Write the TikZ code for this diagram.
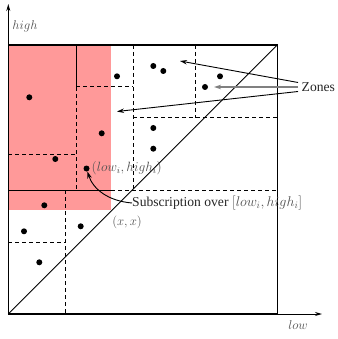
\documentclass[tikz,border=0pt]{standalone}
\usepackage{fontspec}
\setmainfont{Liberation Serif}
\usetikzlibrary{arrows.meta}
\definecolor{zonepink}{RGB}{255,153,153}
\definecolor{labgray}{RGB}{80,80,80}
\newcommand{\mlab}[2][1.06]{\scalebox{#1}{$#2$}}
\tikzset{
  dot/.style={circle,fill=black,inner sep=0pt,minimum size=6pt},
  part/.style={line width=1pt,dash pattern=on 4pt off 3pt},
  solidpart/.style={line width=1pt},
  axis/.style={line width=1pt,-{Stealth[length=7pt,width=4pt]}},
  ptr/.style={line width=0.9pt,-{Stealth[length=7pt,width=4.5pt,open]}},
  mathlab/.style={text=labgray,font=\fontsize{12}{14}\selectfont,inner sep=0pt},
  txtlab/.style={text=black!85,font=\fontsize{13.6}{16}\selectfont,inner sep=0pt}
}
\begin{document}
\begin{tikzpicture}[x=1pt,y=-1pt]
\useasboundingbox (0,0) rectangle (337,339);
% subscription region
\fill[zonepink] (8.3,45) rectangle (111,210);
% axes
\draw[axis] (8.3,314) -- (8.3,4);
\draw[axis] (8.3,314) -- (322,314);
\node[mathlab] (hlab) at (25,26) {\mlab{high}};
\node[mathlab] (llab) at (298,325) {\mlab{low}};
% square and diagonal
\draw[line width=1.1pt] (8.3,45) rectangle (277.3,314);
\draw[line width=0.9pt] (8.3,314) -- (277.3,45);
% partition lines
\draw[solidpart] (76,45) -- (76,87);
\draw[part] (76,87) -- (76,190);
\draw[part] (76,87) -- (133,87);
\draw[part] (8.3,154) -- (76,154);
\draw[part] (133,45) -- (133,190);
\draw[part] (195,45) -- (195,118);
\draw[part] (133,118) -- (277.3,118);
\draw[solidpart] (8.3,190) -- (111,190);
\draw[part] (111,190) -- (277.3,190);
\draw[part] (65.3,190) -- (65.3,314);
\draw[part] (8.3,242) -- (65.3,242);
% points
\node[dot] (p1) at (29.3,97.3) {};
\node[dot] (p2) at (117,76.3) {};
\node[dot] (p3) at (153.3,66) {};
\node[dot] (p4) at (163.3,71) {};
\node[dot] (p5) at (101.7,133.3) {};
\node[dot] (p6) at (153.3,128) {};
\node[dot] (p7) at (153.3,148.7) {};
\node[dot] (p8) at (55.3,159) {};
\node[dot] (pi) at (86.5,168.5) {};
\node[dot] (p10) at (220,76.3) {};
\node[dot] (p11) at (205,87) {};
\node[dot] (p12) at (44.3,205.3) {};
\node[dot] (p13) at (24,231.3) {};
\node[dot] (p14) at (80.7,226.3) {};
\node[dot] (p15) at (39.3,262.3) {};
% labels
\node[mathlab,anchor=west] (pilab) at (91.5,168) {\mlab[1.12]{(low_i, high_i)}};
\node[mathlab] (xx) at (127,222) {\mlab{(x,x)}};
\node[txtlab,anchor=west] (sub) at (132,203) {Subscription over \textcolor{labgray}{\mlab[0.98]{[low_i, high_i]}}};
\node[txtlab,anchor=west] (zones) at (301.5,87) {Zones};
% zone pointers
\coordinate (z1) at (180,61);
\coordinate (z2) at (214,87);
\coordinate (z3) at (117,111.5);
\draw[ptr] (298,82.5) -- (z1);
\draw[ptr,draw=gray,line width=1.2pt] (298,87) -- (z2);
\draw[ptr] (298,91.5) -- (z3);
% subscription pointer
\draw[ptr] (sub.west) .. controls (108,201) and (93,189) .. (pi);
\end{tikzpicture}
\end{document}
